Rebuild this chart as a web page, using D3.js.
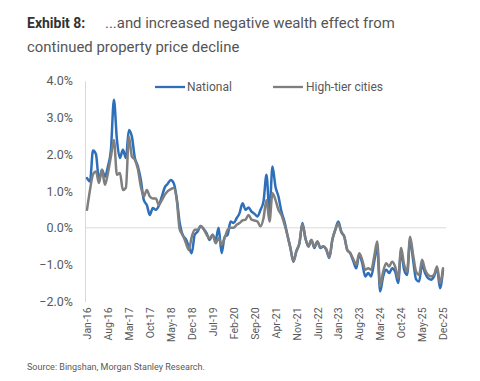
<!DOCTYPE html>
<html>
<head>
<meta charset="utf-8">
<script src="https://cdn.jsdelivr.net/npm/d3@7"></script>
<style>
  html, body { margin: 0; padding: 0; background: #fff; }
  svg { display: block; }
  text { font-family: Roboto, "Noto Sans", sans-serif; }
</style>
</head>
<body>
<svg id="chart" width="480" height="381"></svg>
<script>
// ---- Data (monthly, Jan-16 .. Dec-25), % change ----
const monthNames = ["Jan","Feb","Mar","Apr","May","Jun","Jul","Aug","Sep","Oct","Nov","Dec"];
const categories = [];
for (let y = 16; y <= 25; y++) for (let m = 0; m < 12; m++) categories.push(monthNames[m] + "-" + y);

const national = [
  1.35, 1.26, 2.10, 2.00, 1.30, 1.58, 1.39, 1.67, 2.12, 3.48, 2.40, 1.90,
  2.12, 1.90, 2.66, 2.48, 1.90, 1.67, 1.30, 0.75, 0.62, 0.35, 0.54, 0.49,
  0.60, 0.85, 1.10, 1.20, 1.30, 1.21, 0.80, 0.13, -0.20, -0.30, -0.50, -0.69,
  -0.19, -0.10, 0.05, -0.03, -0.15, -0.33, -0.19, -0.33, 0.00, -0.69, -0.25, -0.19,
  0.17, 0.13, 0.26, 0.40, 0.67, 0.49, 0.55, 0.44, 0.38, 0.31, 0.49, 0.72,
  1.44, 0.44, 1.67, 1.12, 0.85, 0.44, 0.17, -0.20, -0.55, -0.92, -0.64, -0.42,
  0.13, -0.28, -0.51, -0.33, -0.55, -0.37, -0.55, -0.51, -0.60, -0.82, -0.33, -0.05,
  0.17, -0.10, -0.24, -0.60, -0.69, -0.90, -1.10, -0.73, -0.96, -1.32, -1.23, -1.32,
  -0.92, -0.51, -1.73, -1.32, -1.14, -1.23, -1.10, -1.19, -1.50, -0.64, -1.14, -1.28,
  -0.33, -0.87, -1.40, -1.46, -1.00, -1.23, -1.37, -1.41, -1.32, -1.10, -1.64, -1.15
];

const highTier = [
  0.49, 1.03, 1.45, 1.53, 1.22, 1.58, 1.17, 1.49, 1.94, 2.39, 1.44, 1.49,
  1.03, 1.09, 2.48, 1.94, 1.85, 1.60, 1.12, 0.85, 1.03, 0.85, 0.80, 0.80,
  0.62, 0.75, 0.90, 1.00, 1.05, 1.08, 0.76, -0.05, -0.19, -0.40, -0.60, -0.25,
  -0.05, -0.05, 0.05, -0.04, -0.19, -0.28, -0.19, -0.42, -0.28, -0.46, -0.28, -0.05,
  0.00, 0.00, 0.08, 0.13, 0.20, 0.22, 0.35, 0.22, 0.20, 0.17, 0.04, 0.26,
  0.76, 0.17, 0.94, 0.76, 0.49, 0.35, 0.10, -0.20, -0.55, -0.90, -0.62, -0.42,
  0.10, -0.28, -0.50, -0.33, -0.52, -0.37, -0.53, -0.50, -0.58, -0.80, -0.33, -0.06,
  0.12, -0.12, -0.24, -0.60, -0.69, -0.85, -1.00, -0.69, -0.87, -1.14, -1.10, -1.14,
  -0.78, -0.37, -1.59, -1.19, -0.96, -1.05, -0.92, -1.05, -1.37, -0.55, -1.00, -1.19,
  -0.24, -0.73, -1.19, -1.28, -0.87, -1.14, -1.28, -1.32, -1.28, -1.05, -1.50, -1.10
];

const yTicks = [-2, -1, 0, 1, 2, 3, 4];
const xTickLabels = ["Jan-16","Aug-16","Mar-17","Oct-17","May-18","Dec-18","Jul-19","Feb-20","Sep-20","Apr-21","Nov-21","Jun-22","Jan-23","Aug-23","Mar-24","Oct-24","May-25","Dec-25"];
const seriesNames = ["National", "High-tier cities"];
const seriesColors = ["#2E6FBA", "#7F7F7F"];

// ---- Drawing ----
const svg = d3.select("#chart");

// Title
const title = svg.append("text").attr("x", 27).attr("y", 28);
title.append("tspan").style("font-weight", "bold").style("font-size", "14px").attr("fill", "#333").text("Exhibit 8:");
title.append("tspan").attr("x", 105).style("font-size", "14.9px").attr("fill", "#555").text("...and increased negative wealth effect from");
svg.append("text").attr("x", 27).attr("y", 52).style("font-size", "14.9px").attr("fill", "#555")
  .text("continued property price decline");

const x = d3.scalePoint().domain(categories).range([87, 443]);
const y = d3.scaleLinear().domain([-2, 4]).range([301.4, 80.7]);

// Y axis
const yAxis = svg.append("g").attr("transform", "translate(85,0)")
  .call(d3.axisLeft(y).tickValues(yTicks).tickSize(0).tickPadding(12)
    .tickFormat(d => d3.format(".1f")(d) + "%"));
yAxis.select(".domain").attr("stroke", "#d9d9d9").attr("stroke-width", 1);
yAxis.selectAll("text").style("font-size", "12.5px").style("font-family", "Roboto, sans-serif").attr("fill", "#595959");

// Zero gridline
svg.append("line").attr("x1", 85).attr("x2", 446).attr("y1", y(0)).attr("y2", y(0))
  .attr("stroke", "#d9d9d9").attr("stroke-width", 1);

// X axis
const xAxis = svg.append("g").attr("transform", "translate(0," + y(-2) + ")")
  .call(d3.axisBottom(x).tickValues(xTickLabels).tickSize(0));
xAxis.select(".domain").remove();
xAxis.selectAll("text")
  .attr("transform", "rotate(-90)")
  .attr("x", -6).attr("y", 0).attr("dy", "0.35em")
  .style("text-anchor", "end")
  .style("font-size", "10.5px").style("font-family", "Roboto, sans-serif")
  .attr("fill", "#595959");

// Lines
const line = d3.line().x((d, i) => x(categories[i])).y(d => y(d)).curve(d3.curveMonotoneX);
[national, highTier].forEach((s, k) => {
  svg.append("path").datum(s).attr("d", line)
    .attr("fill", "none").attr("stroke", seriesColors[k]).attr("stroke-width", 2.5)
    .attr("stroke-linejoin", "round").attr("stroke-linecap", "round");
});

// Legend
const legendItems = [{x1: 155, x2: 185, tx: 187}, {x1: 273, x2: 303, tx: 306}];
legendItems.forEach((p, k) => {
  svg.append("line").attr("x1", p.x1).attr("x2", p.x2).attr("y1", 87).attr("y2", 87)
    .attr("stroke", seriesColors[k]).attr("stroke-width", 2.3);
  svg.append("text").attr("x", p.tx).attr("y", 87).attr("dy", "0.35em")
    .style("font-size", "12px").attr("fill", "#595959").text(seriesNames[k]);
});

// Source
svg.append("text").attr("x", 27).attr("y", 370).style("font-size", "9px").attr("fill", "#595959")
  .text("Source: Bingshan, Morgan Stanley Research.");
</script>
</body>
</html>
